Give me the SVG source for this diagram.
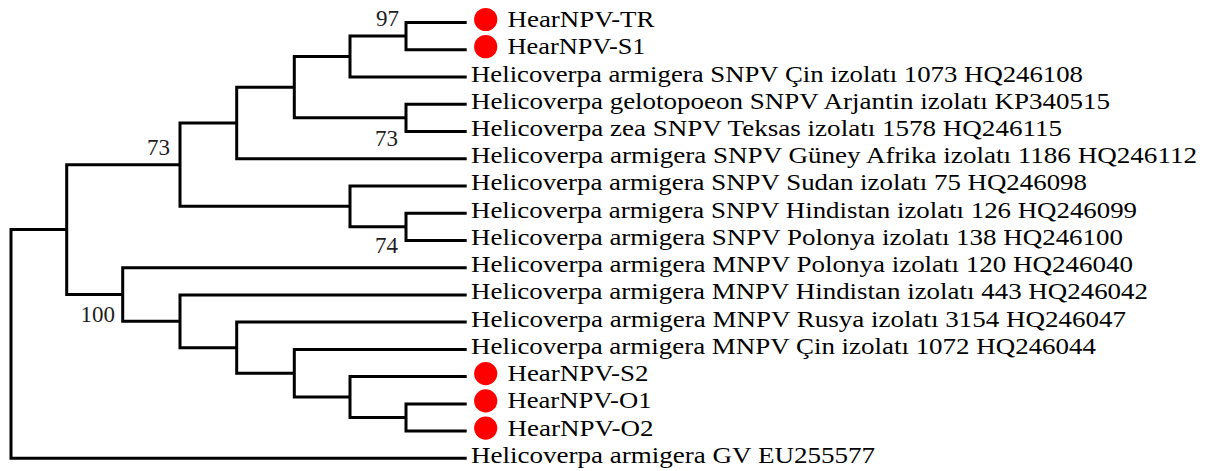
<svg xmlns="http://www.w3.org/2000/svg" width="1211" height="471" viewBox="0 0 1211 471">
<style>
.br{fill:none;stroke:#000;stroke-width:3;stroke-linejoin:miter;stroke-linecap:butt}
.lf{font-family:"Liberation Serif","Times New Roman",serif;font-size:23.5px;fill:#000}
.bs{font-family:"Liberation Serif","Times New Roman",serif;font-size:23px;fill:#1e1e1e;text-anchor:end}
.dot{fill:#ff0000}
</style>
<rect width="1211" height="471" fill="#fff"/>
<g id="connectors">
<path class="br" d="M66.7 229.6 H11 V458.3 H466.7"/>
<path class="br" d="M180 164.65 H66.7 V294.5 H122.7"/>
<path class="br" d="M236.7 122.95 H180 V206.35 H350"/>
<path class="br" d="M294.3 87.2 H236.7 V158.7 H466.7"/>
<path class="br" d="M350 56.55 H294.3 V117.85 H406"/>
<path class="br" d="M406 36.1 H350 V77 H466.7"/>
<path class="br" d="M466.7 22.5 H406 V49.7 H466.7"/>
<path class="br" d="M466.7 104.2 H406 V131.5 H466.7"/>
<path class="br" d="M466.7 185.9 H350 V226.8 H406"/>
<path class="br" d="M466.7 213.2 H406 V240.4 H466.7"/>
<path class="br" d="M466.7 267.7 H122.7 V321.3 H180"/>
<path class="br" d="M466.7 294.9 H180 V347.65 H236.7"/>
<path class="br" d="M466.7 322.1 H236.7 V373.2 H294.3"/>
<path class="br" d="M466.7 349.4 H294.3 V397.05 H350"/>
<path class="br" d="M466.7 376.6 H350 V417.5 H406"/>
<path class="br" d="M466.7 403.9 H406 V431.1 H466.7"/>
</g>
<g id="bootstrap">
<text id="bs97" class="bs" x="399" y="26">97</text>
<text id="bs73a" class="bs" x="170" y="155">73</text>
<text id="bs73b" class="bs" x="398" y="146">73</text>
<text id="bs74" class="bs" x="398" y="253">74</text>
<text id="bs100" class="bs" x="115" y="322">100</text>
</g>
<g id="leaf-TR"><circle class="dot" cx="485.7" cy="19.5" r="11.6"/><text class="lf" x="507.5" y="27" textLength="147" lengthAdjust="spacingAndGlyphs">HearNPV-TR</text></g>
<g id="leaf-S1"><circle class="dot" cx="485.7" cy="46.7" r="11.6"/><text class="lf" x="507.5" y="54.2" textLength="138" lengthAdjust="spacingAndGlyphs">HearNPV-S1</text></g>
<g id="leaf-SNPV-Cin"><text class="lf" x="471" y="81.5" textLength="612" lengthAdjust="spacingAndGlyphs">Helicoverpa armigera SNPV Çin izolatı 1073 HQ246108</text></g>
<g id="leaf-gelo"><text class="lf" x="471" y="108.7" textLength="639" lengthAdjust="spacingAndGlyphs">Helicoverpa gelotopoeon SNPV Arjantin izolatı KP340515</text></g>
<g id="leaf-zea"><text class="lf" x="471" y="136" textLength="591" lengthAdjust="spacingAndGlyphs">Helicoverpa zea SNPV Teksas izolatı 1578 HQ246115</text></g>
<g id="leaf-Guney"><text class="lf" x="471" y="163.2" textLength="726" lengthAdjust="spacingAndGlyphs">Helicoverpa armigera SNPV Güney Afrika izolatı 1186 HQ246112</text></g>
<g id="leaf-Sudan"><text class="lf" x="471" y="190.4" textLength="616" lengthAdjust="spacingAndGlyphs">Helicoverpa armigera SNPV Sudan izolatı 75 HQ246098</text></g>
<g id="leaf-SNPV-Hind"><text class="lf" x="471" y="217.7" textLength="666" lengthAdjust="spacingAndGlyphs">Helicoverpa armigera SNPV Hindistan izolatı 126 HQ246099</text></g>
<g id="leaf-SNPV-Pol"><text class="lf" x="471" y="244.9" textLength="652" lengthAdjust="spacingAndGlyphs">Helicoverpa armigera SNPV Polonya izolatı 138 HQ246100</text></g>
<g id="leaf-MNPV-Pol"><text class="lf" x="471" y="272.2" textLength="662" lengthAdjust="spacingAndGlyphs">Helicoverpa armigera MNPV Polonya izolatı 120 HQ246040</text></g>
<g id="leaf-MNPV-Hind"><text class="lf" x="471" y="299.4" textLength="677" lengthAdjust="spacingAndGlyphs">Helicoverpa armigera MNPV Hindistan izolatı 443 HQ246042</text></g>
<g id="leaf-MNPV-Rusya"><text class="lf" x="471" y="326.6" textLength="655" lengthAdjust="spacingAndGlyphs">Helicoverpa armigera MNPV Rusya izolatı 3154 HQ246047</text></g>
<g id="leaf-MNPV-Cin"><text class="lf" x="471" y="353.9" textLength="625" lengthAdjust="spacingAndGlyphs">Helicoverpa armigera MNPV Çin izolatı 1072 HQ246044</text></g>
<g id="leaf-S2"><circle class="dot" cx="485.7" cy="373.6" r="11.6"/><text class="lf" x="507.5" y="381.1" textLength="141" lengthAdjust="spacingAndGlyphs">HearNPV-S2</text></g>
<g id="leaf-O1"><circle class="dot" cx="485.7" cy="400.9" r="11.6"/><text class="lf" x="507.5" y="408.4" textLength="144" lengthAdjust="spacingAndGlyphs">HearNPV-O1</text></g>
<g id="leaf-O2"><circle class="dot" cx="485.7" cy="428.1" r="11.6"/><text class="lf" x="507.5" y="435.6" textLength="146" lengthAdjust="spacingAndGlyphs">HearNPV-O2</text></g>
<g id="leaf-GV"><text class="lf" x="471" y="462.8" textLength="404" lengthAdjust="spacingAndGlyphs">Helicoverpa armigera GV EU255577</text></g>
</svg>
